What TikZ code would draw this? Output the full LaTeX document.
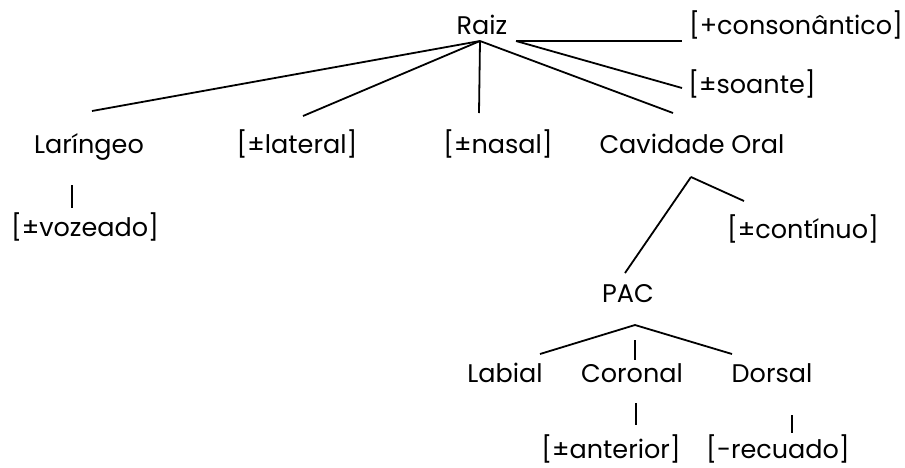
\documentclass[tikz,border=0pt]{standalone}
\usepackage{fontspec}
\setmainfont[Ligatures=NoCommon]{Poppins}
\begin{document}
\begin{tikzpicture}[x=1pt,y=-1pt,
  lbl/.style={anchor=base,inner sep=0pt,font=\fontsize{25.5}{30}\selectfont},
  br/.style={line width=1.8pt}]
\useasboundingbox (0,0) rectangle (905,467);
% nodes
\node[lbl] (raiz) at (482,34) {Raiz};
\node[lbl] (cons) at (796,34) {[+consonântico]};
\node[lbl] (soan) at (752,93) {[±soante]};
\node[lbl] (lar) at (89,153) {Laríngeo};
\node[lbl] (lat) at (297,153) {[±lateral]};
\node[lbl] (nas) at (498,153) {[±nasal]};
\node[lbl] (cav) at (692,153) {Cavidade Oral};
\node[lbl] (voz) at (85,236) {[±vozeado]};
\node[lbl] (cont) at (803,238) {[±contínuo]};
\node[lbl] (pac) at (628,302) {PAC};
\node[lbl] (lab) at (505,382) {Labial};
\node[lbl] (cor) at (632,382) {Coronal};
\node[lbl] (dor) at (772,382) {Dorsal};
\node[lbl] (ant) at (611,458) {[±anterior]};
\node[lbl] (rec) at (778,458) {[-recuado]};
% line endpoints
\coordinate (rA) at (480,41);
\coordinate (rB) at (516,41);
\coordinate (larT) at (92,111);
\coordinate (latT) at (303,116);
\coordinate (nasT) at (479,113);
\coordinate (cavT) at (673,113);
\coordinate (consL) at (682,41);
\coordinate (soanL) at (682,88);
\coordinate (larB) at (72,185);
\coordinate (vozT) at (72,208);
\coordinate (cavA) at (691,177);
\coordinate (contT) at (744,201);
\coordinate (pacT) at (625,273);
\coordinate (pacA) at (635,325);
\coordinate (labT) at (540,354);
\coordinate (dorT) at (732,354);
\coordinate (corA) at (635,340);
\coordinate (corT) at (635,360);
\coordinate (corB) at (636,403);
\coordinate (antT) at (636,425);
\coordinate (dorB) at (792,415);
\coordinate (recT) at (792,433);
% connectors
\draw[br] (rA) -- (larT);
\draw[br] (rA) -- (latT);
\draw[br] (rA) -- (nasT);
\draw[br] (rA) -- (cavT);
\draw[br] (rB) -- (consL);
\draw[br] (rB) -- (soanL);
\draw[br] (larB) -- (vozT);
\draw[br] (cavA) -- (contT);
\draw[br] (cavA) -- (pacT);
\draw[br] (pacA) -- (labT);
\draw[br] (pacA) -- (dorT);
\draw[br] (corA) -- (corT);
\draw[br] (corB) -- (antT);
\draw[br] (dorB) -- (recT);
\end{tikzpicture}
\end{document}
